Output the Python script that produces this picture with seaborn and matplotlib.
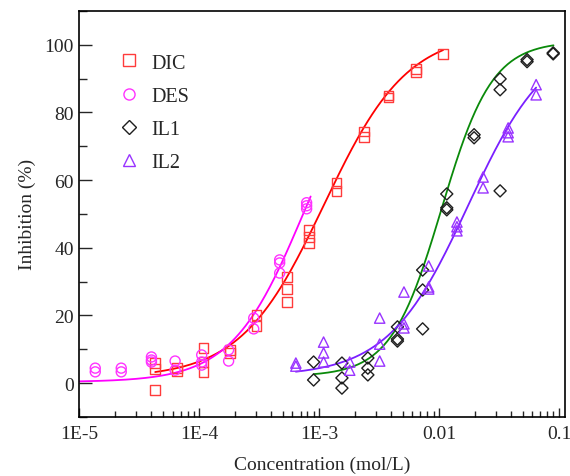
import numpy as np
import pandas as pd
import matplotlib
matplotlib.use("Agg")
import matplotlib.pyplot as plt
import matplotlib.ticker as mticker
from matplotlib.lines import Line2D
import seaborn as sns

# ---------------- data ----------------
dic_x = [4.3e-5]*3 + [6.5e-5]*2 + [1.09e-4]*3 + [1.8e-4]*2 + [3.0e-4]*2 + [5.4e-4]*3 + \
        [8.2e-4]*3 + [1.4e-3]*2 + [2.36e-3]*2 + [3.8e-3]*2 + [6.4e-3]*2 + [1.08e-2]
dic_y = [5.9, 4.1, -2.1, 4.4, 3.5, 10.4, 6.2, 3.3, 9.8, 8.9, 20.1, 16.9, 31.4, 27.8, 24.0,
         45.3, 43.2, 41.4, 59.2, 56.8, 74.3, 72.8, 85.0, 84.4, 92.9, 92.0, 97.3]

des_x = [1.36e-5]*2 + [2.24e-5]*2 + [4.0e-5]*3 + [6.3e-5]*2 + [1.05e-4]*3 + [1.76e-4]*2 + \
        [2.85e-4]*2 + [4.69e-4]*3 + [7.87e-4]*3
des_y = [4.4, 3.3, 4.4, 3.3, 7.7, 6.8, 6.2, 6.5, 3.8, 8.3, 6.2, 5.3, 9.8, 6.5, 19.2, 16.0,
         36.4, 35.5, 32.5, 53.3, 52.4, 51.5]

il1_x = [9.0e-4]*2 + [1.55e-3]*3 + [2.55e-3]*3 + [4.5e-3]*3 + [7.3e-3]*3 + [1.16e-2]*3 + \
        [1.96e-2]*2 + [3.23e-2]*3 + [5.42e-2]*2 + [8.95e-2]*2
il1_y = [6.2, 0.9, 5.9, 1.5, -1.5, 7.4, 4.4, 2.4, 16.6, 13.0, 12.4, 33.4, 27.5, 16.0,
         55.9, 51.8, 51.2, 73.4, 72.5, 89.9, 86.7, 56.8, 95.6, 95.0, 97.6, 97.3]

il2_x = [6.4e-4]*2 + [1.09e-3]*3 + [1.8e-3]*2 + [3.2e-3]*3 + [5.1e-3]*3 + [8.2e-3]*3 + \
        [1.41e-2]*3 + [2.33e-2]*2 + [3.77e-2]*3 + [6.45e-2]*2
il2_y = [5.9, 5.0, 12.1, 8.9, 6.2, 6.2, 3.8, 19.2, 11.5, 6.5, 26.9, 17.5, 16.3,
         34.6, 28.4, 27.8, 47.6, 46.2, 45.0, 60.9, 57.7, 75.4, 74.0, 72.8, 88.2, 85.2]

series = ["DIC", "DES", "IL1", "IL2"]
# dose-response fit parameters: bottom, top, IC50, Hill slope, curve start, curve end
fit_dic = [1.5, 104.0, 1.1e-3, 1.25, 4.3e-5, 1.08e-2]
fit_des = [0.3, 100.0, 7.4e-4, 1.45, 1.0e-5, 8.5e-4]
fit_il1 = [2.0, 101.0, 1.05e-2, 2.06, 9.0e-4, 9.0e-2]
fit_il2 = [2.0, 103.0, 1.75e-2, 1.30, 6.4e-4, 6.45e-2]

x_ticks = [1e-5, 1e-4, 1e-3, 1e-2, 1e-1]
x_tick_labels = ["1E-5", "1E-4", "1E-3", "0.01", "0.1"]
y_ticks = [0, 20, 40, 60, 80, 100]

marker_colors = {"DIC": "#ff3b3b", "DES": "#ff33ff", "IL1": "#1e1e1e", "IL2": "#9933ff"}
line_colors = {"DIC": "#ff0000", "DES": "#ff00ff", "IL1": "#0a8a0a", "IL2": "#7a1fff"}
markers = {"DIC": "s", "DES": "o", "IL1": "D", "IL2": "^"}
msizes = {"DIC": 48, "DES": 52, "IL1": 38, "IL2": 55}

# ---------------- build tables ----------------
pts = pd.concat([
    pd.DataFrame({"x": dic_x, "y": dic_y, "s": "DIC"}),
    pd.DataFrame({"x": des_x, "y": des_y, "s": "DES"}),
    pd.DataFrame({"x": il1_x, "y": il1_y, "s": "IL1"}),
    pd.DataFrame({"x": il2_x, "y": il2_y, "s": "IL2"}),
], ignore_index=True)

def hill(p):
    b, t, ic, h, x0, x1 = p
    xs = np.logspace(np.log10(x0), np.log10(x1), 200)
    return xs, b + (t - b) / (1.0 + (ic / xs) ** h)

curves = []
for name, p in zip(series, [fit_dic, fit_des, fit_il1, fit_il2]):
    xs, ys = hill(p)
    curves.append(pd.DataFrame({"x": xs, "y": ys, "s": name}))
curves = pd.concat(curves, ignore_index=True)

# ---------------- plot ----------------
sns.set_style("ticks")
plt.rcParams["font.family"] = ["Liberation Serif", "DejaVu Serif"]
plt.rcParams["font.size"] = 14

fig = plt.figure(figsize=(5.7, 4.77), dpi=100)
ax = fig.add_axes([0.139, 0.124, 0.852, 0.851])

for name in series:
    d = pts[pts["s"] == name]
    sns.scatterplot(data=d, x="x", y="y", ax=ax, marker=markers[name], s=msizes[name],
                    facecolors="none", edgecolor=marker_colors[name], linewidth=1.0,
                    legend=False, zorder=3)
for name in series:
    d = curves[curves["s"] == name]
    sns.lineplot(data=d, x="x", y="y", ax=ax, color=line_colors[name], lw=1.3,
                 legend=False, zorder=2, estimator=None, sort=False)

ax.set_xscale("log")
ax.set_xlim(1e-5, 0.112)
ax.set_ylim(-10, 110)
ax.set_xticks(x_ticks)
ax.set_xticklabels(x_tick_labels)
ax.xaxis.set_minor_locator(mticker.LogLocator(base=10, subs=np.arange(2, 10)))
ax.xaxis.set_minor_formatter(mticker.NullFormatter())
ax.set_yticks(y_ticks)
ax.yaxis.set_minor_locator(mticker.MultipleLocator(10))

ax.tick_params(axis="x", which="major", direction="in", length=6.5, width=1, labelsize=14,
               pad=6, bottom=True, top=False)
ax.tick_params(axis="x", which="minor", direction="in", length=4, width=1, bottom=True, top=False)
ax.tick_params(axis="y", which="major", direction="in", length=9, width=1, labelsize=14,
               pad=4, left=True, right=False)
ax.tick_params(axis="y", which="minor", direction="in", length=5.5, width=1, left=True, right=False)

for sp in ax.spines.values():
    sp.set_visible(True)
    sp.set_color("black")
    sp.set_linewidth(1.2)

ax.set_xlabel("Concentration (mol/L)", fontsize=14, labelpad=10)
ax.set_ylabel("Inhibition (%)", fontsize=14, labelpad=6)

handles = [Line2D([], [], linestyle="none", marker=markers[n], markersize=8 if n != "IL1" else 7,
                  markerfacecolor="none", markeredgecolor=marker_colors[n], markeredgewidth=1.0,
                  label=n) for n in series]
ax.legend(handles=handles, loc="upper left", bbox_to_anchor=(0.04, 0.94), frameon=False,
          fontsize=14.5, handletextpad=0.5, labelspacing=0.7, handlelength=1.2)

fig.savefig("out.png", dpi=100)
